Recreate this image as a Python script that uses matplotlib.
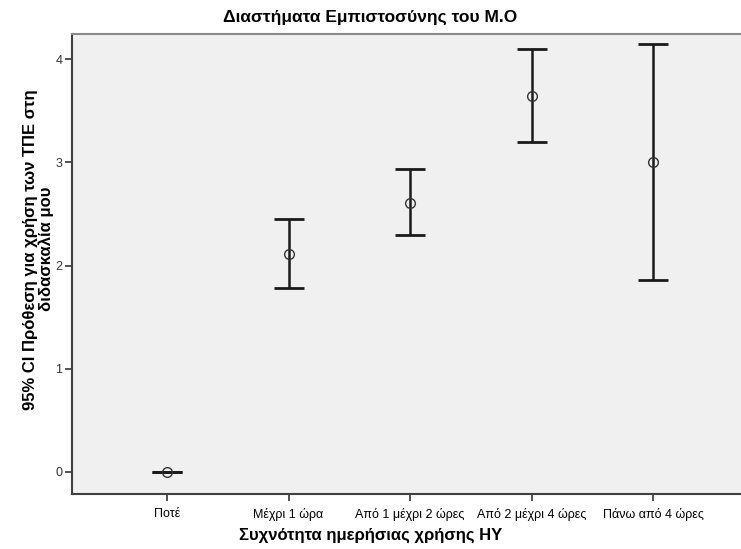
import matplotlib
matplotlib.use('Agg')
import matplotlib.pyplot as plt

# Values
categories = ['Ποτέ', 'Μέχρι 1 ώρα', 'Από 1 μέχρι 2 ώρες', 'Από 2 μέχρι 4 ώρες', 'Πάνω από 4 ώρες']
means = [0.0, 2.11, 2.61, 3.64, 3.00]
ci_low = [0.0, 1.78, 2.30, 3.20, 1.86]
ci_high = [0.0, 2.45, 2.93, 4.10, 4.15]

plt.rcParams['font.family'] = ['Liberation Sans', 'DejaVu Sans']

fig = plt.figure(figsize=(7.41, 5.49), dpi=100)
ax = fig.add_axes([0.0972, 0.1002, 0.9028, 0.8378])
ax.set_facecolor('#f0f0f0')

x = list(range(len(categories)))
err = [[m - lo for m, lo in zip(means, ci_low)], [hi - m for m, hi in zip(means, ci_high)]]
ax.errorbar(x, means, yerr=err, fmt='none', ecolor='#1a1a1a', elinewidth=1.8,
            capsize=10.8, capthick=2.0, zorder=2)
ax.plot(x, means, 'o', mfc='none', mec='#333333', ms=7, mew=1.0, zorder=3)

ax.set_xlim(-0.78, 4.72)
ax.set_ylim(-0.213, 4.242)
ax.set_xticks(x)
ax.set_xticklabels(categories, fontsize=9)
ax.set_yticks([0, 1, 2, 3, 4])
ax.tick_params(axis='both', length=5, width=1.2, color='#333333', labelsize=9, pad=2)
ax.tick_params(axis='x', pad=5)
ax.tick_params(axis='y', labelcolor='#333333')

for s in ['left', 'bottom']:
    ax.spines[s].set_color('#404040')
    ax.spines[s].set_linewidth(1.5)
ax.spines['top'].set_color('#8a8a8a')
ax.spines['top'].set_linewidth(1.5)
ax.spines['right'].set_visible(False)

# titles centred on the figure, as in the original
fig.text(0.5, 0.968, 'Διαστήματα Εμπιστοσύνης του Μ.Ο', fontsize=12.5, fontweight='bold',
         ha='center', va='center')
fig.text(0.5, 0.0255, 'Συχνότητα ημερήσιας χρήσης ΗΥ', fontsize=12, fontweight='bold',
         ha='center', va='center')
fig.text(0.052, 0.546, '95% CI Πρόθεση για χρήση των ΤΠΕ στη\nδιδασκαλία μου', fontsize=12,
         fontweight='bold', rotation=90, ha='center', va='center', multialignment='center',
         linespacing=1.0)

fig.savefig('out.png', dpi=100)
